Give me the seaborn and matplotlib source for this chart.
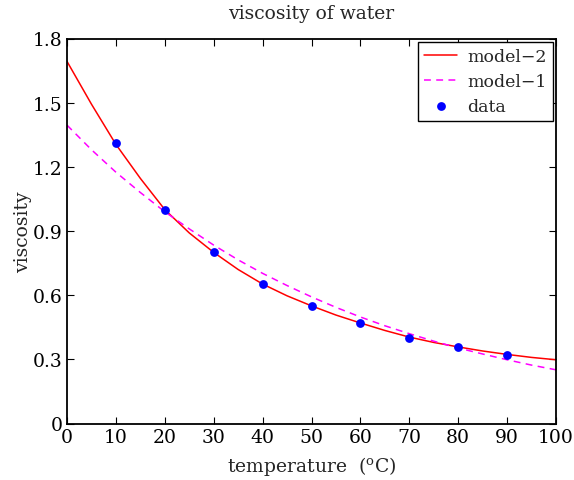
import matplotlib
matplotlib.use("Agg")
import matplotlib.pyplot as plt
import seaborn as sns
import pandas as pd

# data
temp_data = [10, 20, 30, 40, 50, 60, 70, 80, 90]
visc_data = [1.31, 1.00, 0.80, 0.65, 0.55, 0.47, 0.40, 0.36, 0.32]

temp_model = [0, 5, 10, 15, 20, 25, 30, 35, 40, 45, 50,
              55, 60, 65, 70, 75, 80, 85, 90, 95, 100]
visc_model2 = [1.693, 1.493, 1.305, 1.146, 1.000, 0.891, 0.800, 0.720, 0.652, 0.597, 0.550,
               0.507, 0.470, 0.435, 0.404, 0.379, 0.358, 0.339, 0.323, 0.309, 0.298]
visc_model1 = [1.395, 1.280, 1.175, 1.080, 0.990, 0.910, 0.834, 0.765, 0.702, 0.645, 0.592,
               0.543, 0.498, 0.457, 0.420, 0.385, 0.353, 0.325, 0.298, 0.273, 0.251]

x_ticks = [0, 10, 20, 30, 40, 50, 60, 70, 80, 90, 100]
y_ticks = [0, 0.3, 0.6, 0.9, 1.2, 1.5, 1.8]
y_ticklabels = ["0", "0.3", "0.6", "0.9", "1.2", "1.5", "1.8"]

sns.set_style("ticks")
plt.rcParams["font.family"] = ["DejaVu Serif"]
plt.rcParams["mathtext.fontset"] = "dejavuserif"

df_model = pd.DataFrame({"t": temp_model, "m2": visc_model2, "m1": visc_model1})
df_data = pd.DataFrame({"t": temp_data, "v": visc_data})

fig = plt.figure(figsize=(5.74, 4.81), dpi=100)
ax = fig.add_axes([67 / 574, 1 - 424.5 / 481, (556 - 67) / 574, (424.5 - 39.5) / 481])

sns.lineplot(data=df_model, x="t", y="m2", ax=ax, color="red", linewidth=1.1,
             label="model\u22122")
sns.lineplot(data=df_model, x="t", y="m1", ax=ax, color="#FF00FF", linewidth=1.1,
             linestyle=(0, (4.5, 3.5)), label="model\u22121")
sns.scatterplot(data=df_data, x="t", y="v", ax=ax, color="blue", s=40,
                edgecolor="blue", linewidth=0, label="data", zorder=3)

ax.set_xlim(0, 100)
ax.set_ylim(0, 1.8)
ax.set_xticks(x_ticks)
ax.set_xticklabels([str(v) for v in x_ticks])
ax.set_yticks(y_ticks)
ax.set_yticklabels(y_ticklabels)
ax.tick_params(direction="in", length=5, width=0.8, top=True, right=True,
               labelsize=13.5, pad=3, colors="black")
for s in ax.spines.values():
    s.set_linewidth(1.3)
    s.set_color("black")

ax.set_title("viscosity of water", fontsize=13.5, pad=15)
ax.set_xlabel(r"temperature  ($^{\rm o}$C)", fontsize=13.5, labelpad=6)
ax.set_ylabel("viscosity", fontsize=13.5, labelpad=1)

leg = ax.legend(loc="upper right", fontsize=12.5, frameon=True, fancybox=False,
                edgecolor="black", framealpha=1, borderpad=0.35, handlelength=1.9,
                labelspacing=0.45, borderaxespad=0.2, handletextpad=0.55)
leg.get_frame().set_linewidth(1.0)

fig.savefig("out.png", dpi=100)
